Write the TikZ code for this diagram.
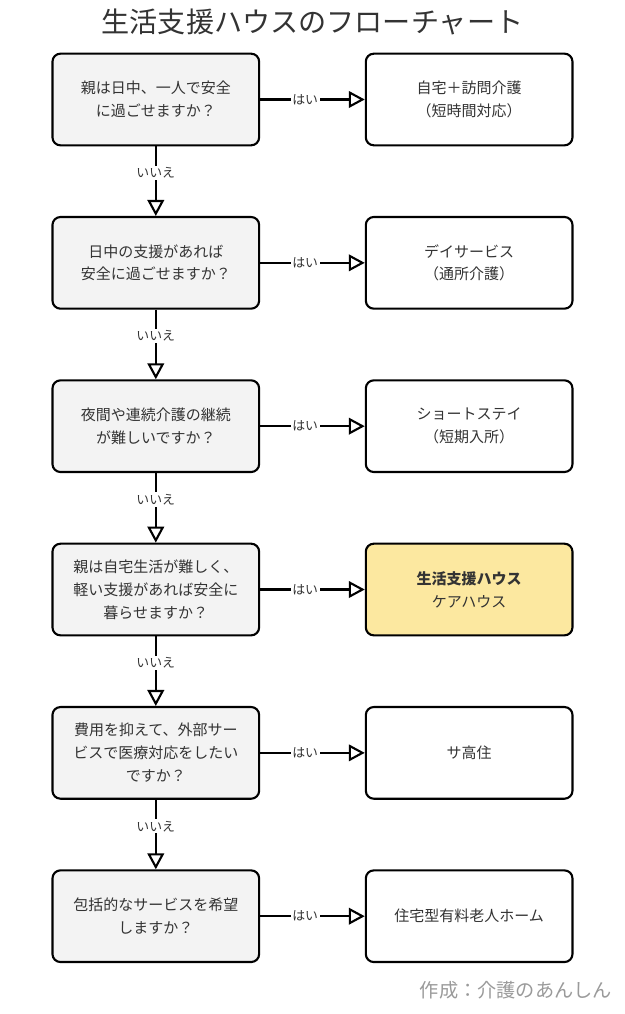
\documentclass[tikz,border=0pt]{standalone}
\usepackage{fontspec}
\setmainfont{Noto Sans CJK JP}
\usepackage{tikz}
\usetikzlibrary{positioning,arrows.meta}
\definecolor{askgray}{HTML}{F3F3F3}
\definecolor{housegold}{HTML}{FCE8A0}
\definecolor{inkdark}{HTML}{333333}
\definecolor{creditgray}{HTML}{9A9A9A}

\begin{document}
\begin{tikzpicture}[x=0.03cm, y=-0.03cm, node distance =4.9cm and 9.4cm, on grid,
	line width=1.8pt,
	ask/.style ={rectangle, rounded corners=0.24cm, draw, fill=askgray,
		text=inkdark, align=center, minimum width=6.2cm, minimum height=2.75cm,
		font=\fontsize{12.8}{19.5}\selectfont},
	goal/.style ={ask, fill=white},
	yes/.style ={-{Triangle[length=4.8mm, width=5mm, fill=white]}},
	lbl/.style ={fill=white, inner sep=1.5pt, text=inkdark,
		font=\fontsize{11}{13}\selectfont}]
	\useasboundingbox (0,0) rectangle (625,1014);
	\node[text=inkdark, font=\fontsize{24}{28}\selectfont] (title) at (312.5,22) {生活支援ハウスのフローチャート};
	% questions
	\node[ask] (Q1) at (155.8,99.5) {親は日中、一人で安全\\に過ごせますか？};
	\node[ask] (Q2) [below = of Q1] {日中の支援があれば\\安全に過ごせますか？};
	\node[ask] (Q3) [below = of Q2] {夜間や連続介護の継続\\が難しいですか？};
	\node[ask] (Q4) [below = of Q3] {親は自宅生活が難しく、\\軽い支援があれば安全に\\暮らせますか？};
	\node[ask] (Q5) [below = of Q4] {費用を抑えて、外部サー\\ビスで医療対応をしたい\\ですか？};
	\node[ask] (Q6) [below = of Q5] {包括的なサービスを希望\\しますか？};
	% answers
	\node[goal] (A1) [right = of Q1] {自宅＋訪問介護\\（短時間対応）};
	\node[goal] (A2) [right = of Q2] {デイサービス\\（通所介護）};
	\node[goal] (A3) [right = of Q3] {ショートステイ\\（短期入所）};
	\node[goal, fill=housegold] (A4) [right = of Q4] {\textbf{生活支援ハウス}\\ケアハウス};
	\node[goal] (A5) [right = of Q5] {サ高住};
	\node[goal] (A6) [right = of Q6] {住宅型有料老人ホーム};
	% yes
	\foreach \i in {1,...,6}
		\draw[yes] (Q\i) -- node[lbl, pos=0.43] {はい} (A\i);
	% no
	\foreach \i/\j in {1/2,2/3,3/4,4/5,5/6}
		\draw[yes] (Q\i) -- node[lbl, pos=0.38] {いいえ} (Q\j);
	\node[anchor=east, text=creditgray, font=\fontsize{16.4}{20}\selectfont] (credit) at (617,990) {作成：介護のあんしん};
\end{tikzpicture}
\end{document}
